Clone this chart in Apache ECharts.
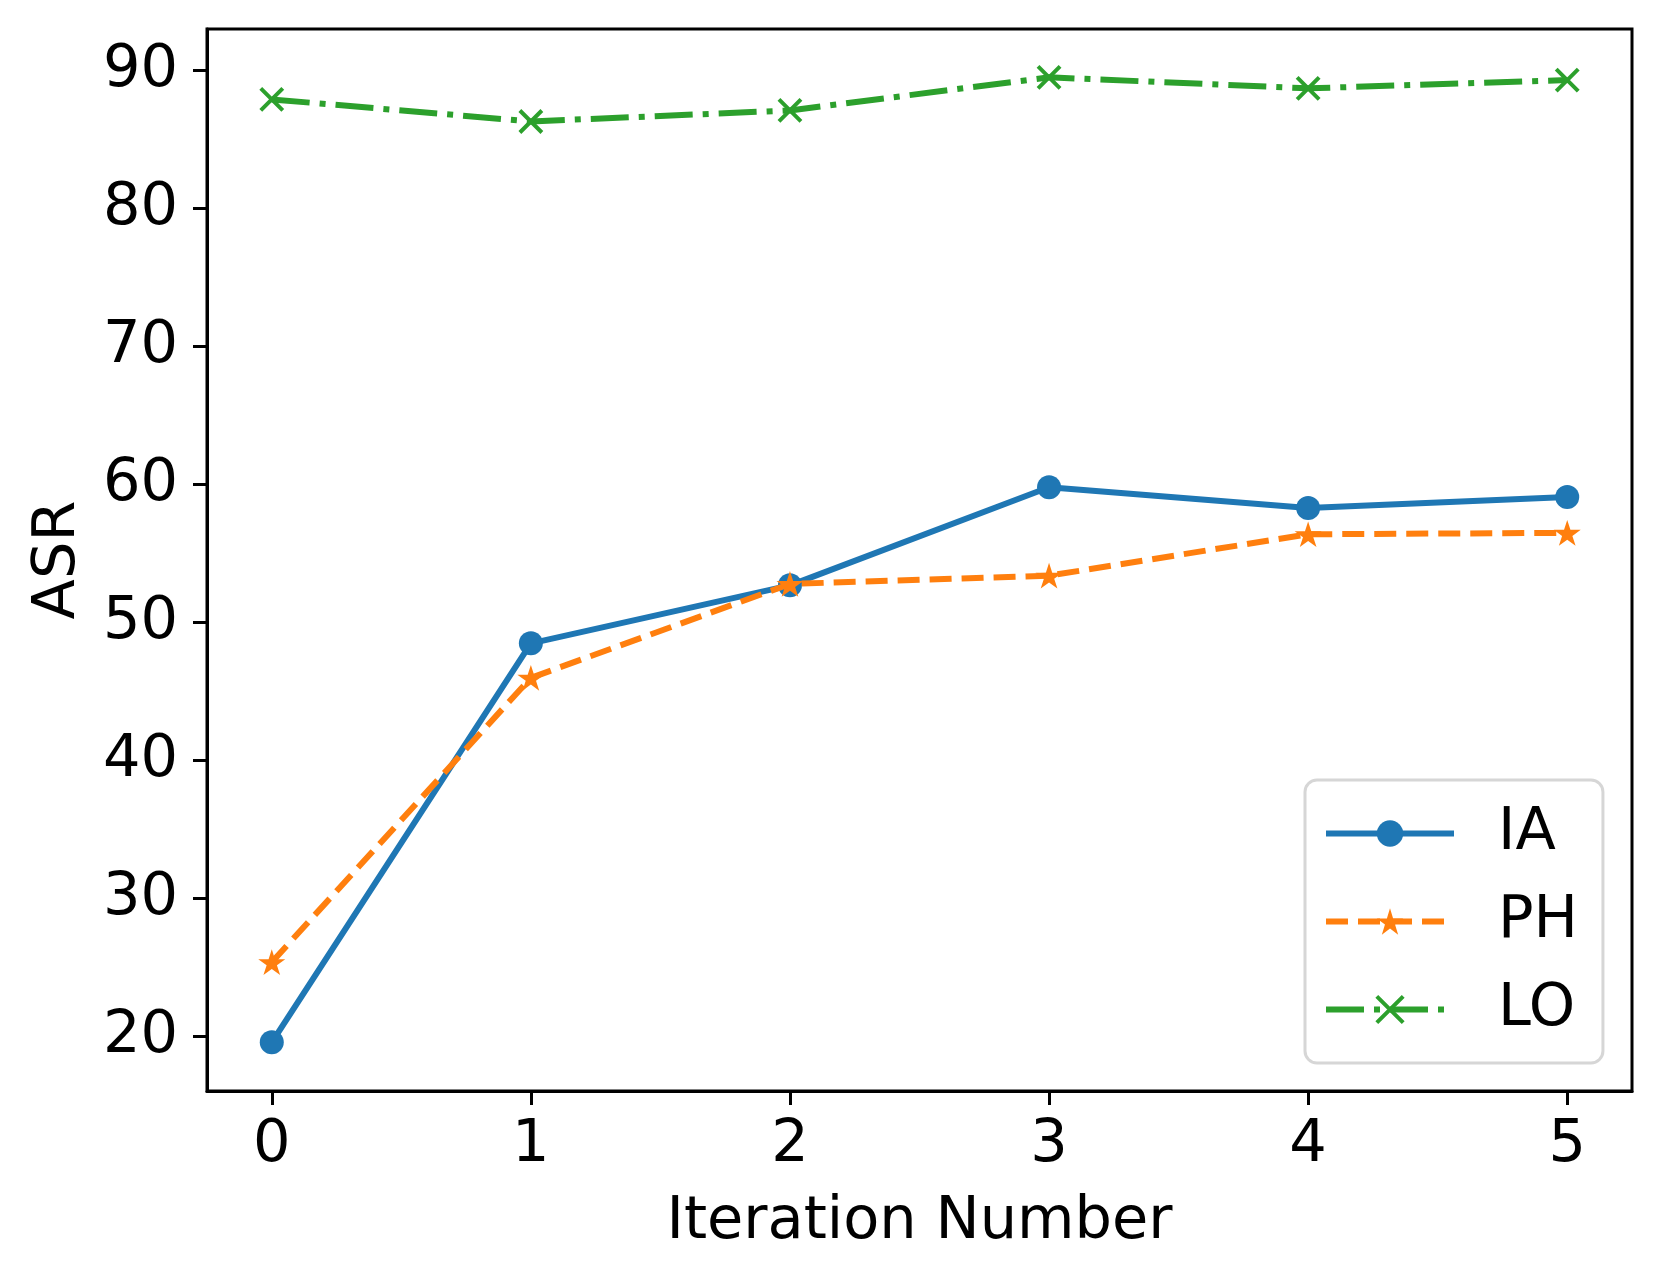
<!DOCTYPE html>
<html>
<head>
<meta charset="utf-8">
<script src="https://cdn.jsdelivr.net/npm/echarts@6/dist/echarts.min.js"></script>
<style>
html,body{margin:0;padding:0;background:#fff;}
#chart{width:1661px;height:1280px;}
</style>
</head>
<body>
<div id="chart"></div>
<script>
// ---- data ----
const iterations = [0, 1, 2, 3, 4, 5];
const seriesNames = ['IA', 'PH', 'LO'];
const iaValues = [19.6, 48.5, 52.7, 59.8, 58.3, 59.1];
const phValues = [25.4, 46.0, 52.8, 53.4, 56.4, 56.5];
const loValues = [87.9, 86.3, 87.1, 89.5, 88.7, 89.3];
const xTicks = [0, 1, 2, 3, 4, 5];
const yTicks = [20, 30, 40, 50, 60, 70, 80, 90];

const FONT = 'DejaVu Sans';
const FS = 59;
const LW = 6;
const starPath = 'path://M100,0L122.45,69.1L195.1,69.1L136.33,111.8L158.78,180.9L100,138.2L41.22,180.9L63.67,111.8L4.9,69.1L77.55,69.1Z';
const xPath = 'path://M0,0L100,100M100,0L0,100';

function pairs(vals) { return iterations.map((x, i) => [x, vals[i]]); }

const chart = echarts.init(document.getElementById('chart'), null, {renderer: 'canvas'});
chart.setOption({
  backgroundColor: '#ffffff',
  animation: false,
  textStyle: {fontFamily: FONT, color: '#000'},
  grid: {
    left: 207, right: 29, top: 29, bottom: 189,
    show: true, borderColor: '#000', borderWidth: 3, backgroundColor: 'transparent',
    containLabel: false, outerBoundsMode: 'none'
  },
  xAxis: {
    type: 'value', min: -0.25, max: 5.25,
    name: 'Iteration Number', nameLocation: 'middle', nameGap: 102,
    nameTextStyle: {fontFamily: FONT, fontSize: FS, color: '#000'},
    axisLine: {show: true, onZero: false, lineStyle: {color: '#000', width: 3}},
    axisTick: {show: true, inside: false, length: 14, lineStyle: {color: '#000', width: 3}, customValues: xTicks},
    axisLabel: {show: true, margin: 25, fontFamily: FONT, fontSize: FS, color: '#000', customValues: xTicks},
    splitLine: {show: false}
  },
  yAxis: {
    type: 'value', min: 16.07, max: 93.0,
    name: 'ASR', nameLocation: 'middle', nameGap: 119,
    nameTextStyle: {fontFamily: FONT, fontSize: FS, color: '#000'},
    axisLine: {show: true, onZero: false, lineStyle: {color: '#000', width: 3}},
    axisTick: {show: true, inside: false, length: 14, lineStyle: {color: '#000', width: 3}, customValues: yTicks},
    axisLabel: {show: true, margin: 29, fontFamily: FONT, fontSize: FS, color: '#000', customValues: yTicks},
    splitLine: {show: false}
  },
  legend: {
    orient: 'vertical',
    left: 1305, top: 780,
    data: [
      {name: seriesNames[0], lineStyle: {width: LW}},
      {name: seriesNames[1], lineStyle: {width: LW}},
      {name: seriesNames[2], lineStyle: {width: LW}, itemStyle: {borderWidth: 4, borderColor: '#2ca02c'}}
    ],
    itemWidth: 128, itemHeight: 33, itemGap: 29,
    padding: [24, 25, 24, 18],
    lineStyle: {width: LW},
    backgroundColor: '#fff',
    borderColor: '#d6d6d6', borderWidth: 3, borderRadius: 12,
    textStyle: {fontFamily: FONT, fontSize: FS, color: '#000', lineHeight: 59, padding: [0, 0, 0, 39]}
  },
  series: [
    {
      name: 'IA', type: 'line', data: pairs(iaValues),
      symbol: 'circle', symbolSize: 24, showSymbol: true,
      lineStyle: {color: '#1f77b4', width: LW, type: 'solid'},
      itemStyle: {color: '#1f77b4', borderWidth: 0},
      z: 2
    },
    {
      name: 'PH', type: 'line', data: pairs(phValues),
      symbol: starPath, symbolSize: 27, symbolKeepAspect: true, showSymbol: true,
      lineStyle: {color: '#ff7f0e', width: LW, type: [22, 10]},
      itemStyle: {color: '#ff7f0e', borderWidth: 0},
      z: 3
    },
    {
      name: 'LO', type: 'line', data: pairs(loValues),
      symbol: xPath, symbolSize: 22, showSymbol: true,
      lineStyle: {color: '#2ca02c', width: LW, type: [38, 10, 6, 10]},
      itemStyle: {color: 'rgba(0,0,0,0)', borderColor: '#2ca02c', borderWidth: 4},
      z: 4
    }
  ]
});
</script>
</body>
</html>
